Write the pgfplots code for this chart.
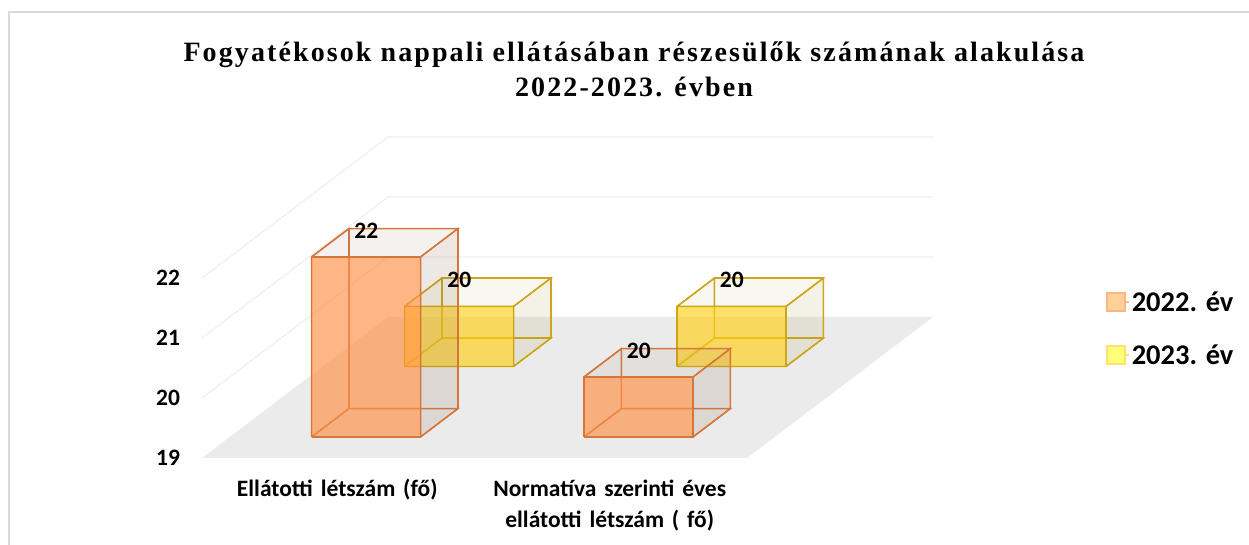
\documentclass[border=0pt]{standalone}
\usepackage{fontspec}
\usepackage{pgfplots}
\pgfplotsset{compat=1.18}
\setmainfont{Carlito}
\newfontfamily\titlefont[LetterSpace=7.5]{Liberation Serif}
\definecolor{gridc}{HTML}{EFEFEF}
\definecolor{floorc}{HTML}{EBEBEB}
\definecolor{framec}{HTML}{D9D9D9}
\definecolor{oface}{HTML}{FF8F45}
\definecolor{oedge}{HTML}{D5763A}
\definecolor{oshade}{HTML}{96785A}
\definecolor{yface}{HTML}{FFCF14}
\definecolor{yedge}{HTML}{CDA516}
\definecolor{yshade}{HTML}{AA963C}
\definecolor{olegf}{HTML}{FFD09A}
\definecolor{olege}{HTML}{FFB57F}
\definecolor{ylegf}{HTML}{FFFF7A}
\definecolor{ylege}{HTML}{FFE36B}
\pgfplotsset{
  ofront/.style={fill=oface,fill opacity=0.65},
  oside/.style={fill=oshade,fill opacity=0.17},
  otop/.style={fill=oshade,fill opacity=0.10},
  oline/.style={draw=oedge,line width=1.4pt,mark=none},
  yfront/.style={fill=yface,fill opacity=0.65},
  yside/.style={fill=yshade,fill opacity=0.13},
  ytop/.style={fill=yshade,fill opacity=0.08},
  yline/.style={draw=yedge,line width=1.4pt,mark=none},
}
% #1 x0, #2 x1, #3 y0, #4 y1, #5 base, #6 value, #7 o or y
\newcommand{\boxbar}[7]{%
  \addplot3[forget plot,#7line] coordinates {(#1,#4,#5)(#2,#4,#5)(#2,#4,#6)(#1,#4,#6)(#1,#4,#5)};
  \addplot3[forget plot,#7line] coordinates {(#1,#3,#5)(#1,#4,#5)(#1,#4,#6)(#1,#3,#6)(#1,#3,#5)};
  \addplot3[forget plot,#7line] coordinates {(#1,#3,#5)(#2,#3,#5)(#2,#4,#5)(#1,#4,#5)(#1,#3,#5)};
  \addplot3[forget plot,#7line,#7side] coordinates {(#2,#3,#5)(#2,#4,#5)(#2,#4,#6)(#2,#3,#6)(#2,#3,#5)};
  \addplot3[forget plot,#7line,#7top] coordinates {(#1,#3,#6)(#2,#3,#6)(#2,#4,#6)(#1,#4,#6)(#1,#3,#6)};
  \addplot3[forget plot,#7line,#7front] coordinates {(#1,#3,#5)(#2,#3,#5)(#2,#3,#6)(#1,#3,#6)(#1,#3,#5)};
}
\begin{document}
\begin{tikzpicture}[x=1pt,y=1pt]
\useasboundingbox (0,0) rectangle (1249,545);
\draw[framec,line width=1.3pt] (9,0) -- (9,533) -- (1249,533);
\begin{axis}[
  at={(202pt,87pt)},anchor=south west,
  x={(272.5pt,0pt)},y={(186pt,141pt)},z={(0pt,60pt)},
  xmin=0,xmax=2,ymin=0,ymax=1,zmin=19,zmax=22,
  clip=false,
  axis line style={draw=none},
  major tick style={draw=none},
  xtick={0.5,1.5},
  xticklabels={{Ellátotti létszám (fő)},{Normatíva szerinti éves\\ellátotti létszám ( fő)}},
  ytick=\empty,
  ztick={19,20,21,22},
  /pgf/number format/assume math mode=true,
  tick label style={font=\fontsize{23.5}{31}\selectfont\bfseries},
  xticklabel style={align=center,text width=330pt,anchor=north,yshift=-18pt,xshift=-1pt},
  zticklabel style={anchor=center,xshift=-34pt},
  title={Fogyatékosok nappali ellátásában részesülők számának alakulása\\2022-2023. évben},
  title style={at={(axis description cs:0.591,1.192)},anchor=center,align=center,
    font=\fontsize{28}{35}\selectfont\titlefont\bfseries},
  legend style={at={(axis description cs:1.237,0.526)},anchor=north west,draw=none,fill=none,
    font=\fontsize{28.5}{30}\selectfont\bfseries,row sep=28pt,inner sep=0pt},
  legend image code/.code={\path (0pt,0pt) -- (22pt,0pt);\draw[#1] (0pt,-9pt) rectangle (18pt,9pt);},
  legend cell align=left,
]
% floor and walls
\addplot3[forget plot,draw=none,fill=floorc] coordinates {(0,0,19)(2,0,19)(2,1,19)(0,1,19)(0,0,19)};
\addplot3[forget plot,draw=gridc,line width=1.2pt,mark=none] coordinates {(0,0,20)(0,1,20)(2,1,20)};
\addplot3[forget plot,draw=gridc,line width=1.2pt,mark=none] coordinates {(0,0,21)(0,1,21)(2,1,21)};
\addplot3[forget plot,draw=gridc,line width=1.2pt,mark=none] coordinates {(0,0,22)(0,1,22)(2,1,22)};
% bars, back to front
\boxbar{0.3}{0.7}{0.65}{0.85}{19}{20}{y}
\boxbar{1.3}{1.7}{0.65}{0.85}{19}{20}{y}
\boxbar{0.3}{0.7}{0.15}{0.35}{19}{22}{o}
\boxbar{1.3}{1.7}{0.15}{0.35}{19}{20}{o}
% value labels
\node[font=\fontsize{23.5}{23}\selectfont\bfseries,shift={(-18.5pt,12pt)}] at (axis cs:0.5,0.25,22) {22};
\node[font=\fontsize{23.5}{23}\selectfont\bfseries,shift={(-18.5pt,12pt)}] at (axis cs:0.5,0.75,20) {20};
\node[font=\fontsize{23.5}{23}\selectfont\bfseries,shift={(-18.5pt,12pt)}] at (axis cs:1.5,0.25,20) {20};
\node[font=\fontsize{23.5}{23}\selectfont\bfseries,shift={(-18.5pt,12pt)}] at (axis cs:1.5,0.75,20) {20};
% legend
\addlegendimage{fill=olegf,draw=olege,line width=1.3pt}
\addlegendentry{2022. év}
\addlegendimage{fill=ylegf,draw=ylege,line width=1.3pt}
\addlegendentry{2023. év}
\end{axis}
\end{tikzpicture}
\end{document}
